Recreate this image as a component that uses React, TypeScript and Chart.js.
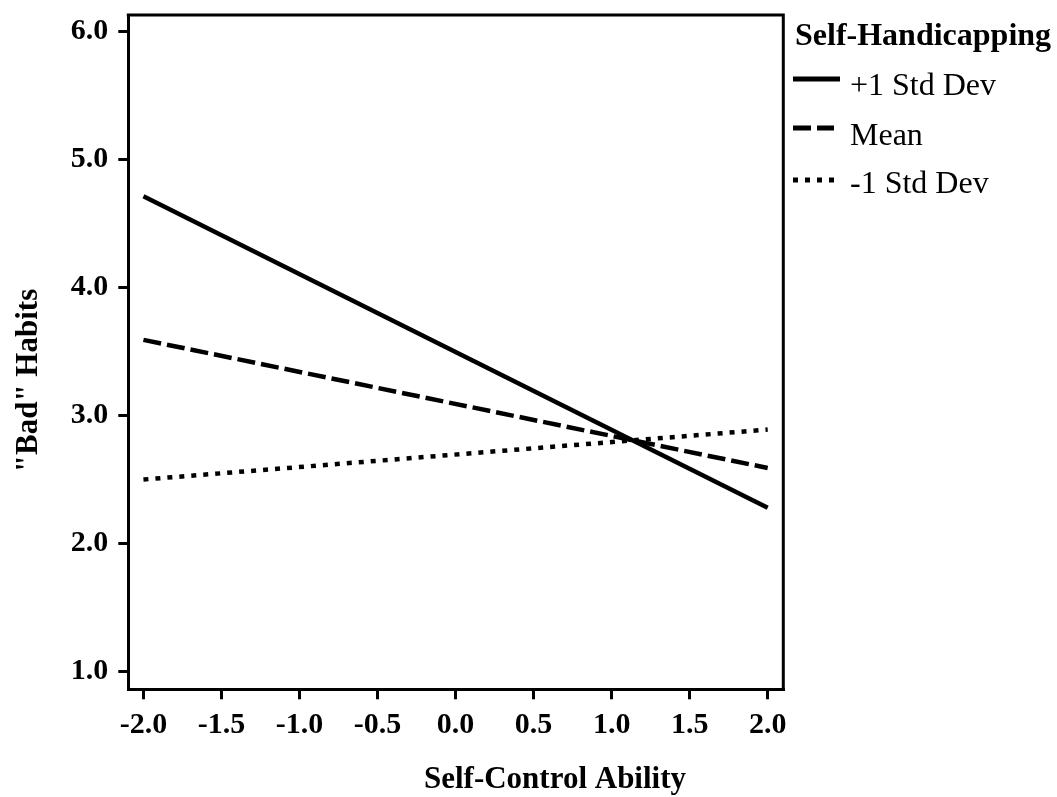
import React, { useEffect, useRef } from 'react';
import { Chart, registerables } from 'chart.js';

Chart.register(...registerables);

// ---- data ----
const xValues = [-2, 2];
const plusOneSD = [4.71, 2.28];
const meanValues = [3.59, 2.59];
const minusOneSD = [2.5, 2.89];
const seriesLabels = ['+1 Std Dev', 'Mean', '-1 Std Dev'];
const xTicks = [-2, -1.5, -1, -0.5, 0, 0.5, 1, 1.5, 2];
const yTicks = [1, 2, 3, 4, 5, 6];
const legendTitle = 'Self-Handicapping';
const xTitle = 'Self-Control Ability';
const yTitle = '"Bad" Habits';

const SERIF = "'Liberation Serif', 'Times New Roman', serif";
const dashes: number[][] = [[], [18, 6], [5, 7]];

const toPoints = (ys: number[]) => xValues.map((x, i) => ({ x, y: ys[i] }));

const decorPlugin = {
  id: 'decor',
  afterDraw(chart: any) {
    const ctx = chart.ctx as CanvasRenderingContext2D;
    const { chartArea } = chart;
    ctx.save();
    // top and right frame lines
    ctx.strokeStyle = '#000';
    ctx.lineWidth = 3;
    ctx.beginPath();
    ctx.moveTo(chartArea.left - 1.5, chartArea.top);
    ctx.lineTo(chartArea.right, chartArea.top);
    ctx.lineTo(chartArea.right, chartArea.bottom + 1.5);
    ctx.stroke();

    // axis titles
    ctx.fillStyle = '#000';
    ctx.font = `bold 31px ${SERIF}`;
    ctx.textAlign = 'center';
    ctx.textBaseline = 'alphabetic';
    ctx.fillText(xTitle, 555, 788);
    ctx.save();
    ctx.translate(36.5, 380.5);
    ctx.rotate(-Math.PI / 2);
    ctx.fillText(yTitle, 0, 0);
    ctx.restore();

    // legend
    ctx.textAlign = 'left';
    ctx.font = `bold 32px ${SERIF}`;
    ctx.fillText(legendTitle, 795, 45);
    ctx.font = `32px ${SERIF}`;
    const lineYs = [79, 128, 180];
    const textYs = [95, 145, 193];
    const ends = [840, 834, 834];
    chart.data.datasets.forEach((ds: any, i: number) => {
      ctx.beginPath();
      ctx.setLineDash(dashes[i]);
      ctx.lineWidth = 5;
      ctx.lineCap = 'butt';
      ctx.moveTo(793, lineYs[i]);
      ctx.lineTo(ends[i], lineYs[i]);
      ctx.stroke();
      ctx.setLineDash([]);
      ctx.fillText(ds.label, 850, textYs[i]);
    });
    ctx.restore();
  },
};

export default function App() {
  const canvasRef = useRef<HTMLCanvasElement | null>(null);

  useEffect(() => {
    if (!canvasRef.current) return;
    const tickFont = { family: SERIF, size: 30, weight: 'bold' as const };
    const seriesData = [plusOneSD, meanValues, minusOneSD];
    const chart = new Chart(canvasRef.current, {
      type: 'line',
      data: {
        datasets: seriesData.map((ys, i) => ({
          label: seriesLabels[i],
          data: toPoints(ys),
          borderColor: '#000',
          backgroundColor: '#000',
          borderWidth: 4.5,
          borderDash: dashes[i],
          borderCapStyle: 'butt' as const,
          pointRadius: 0,
          fill: false,
          tension: 0,
        })),
      },
      options: {
        animation: false,
        responsive: false,
        devicePixelRatio: 1,
        layout: { padding: { left: 0, top: 15, right: 273.7, bottom: 0 } },
        plugins: {
          legend: { display: false },
          tooltip: { enabled: false },
          title: { display: false },
        },
        scales: {
          x: {
            type: 'linear',
            min: -2.097,
            max: 2.1,
            afterBuildTicks: (s: any) => {
              s.ticks = xTicks.map((v) => ({ value: v }));
            },
            afterFit: (s: any) => {
              s.height = 797 - 689.3;
              s.paddingLeft = 0;
              s.paddingRight = 0;
              s.paddingTop = 0;
              s.paddingBottom = 0;
            },
            ticks: {
              font: tickFont,
              color: '#000',
              padding: 8,
              maxRotation: 0,
              autoSkip: false,
              callback: (v: any) => Number(v).toFixed(1),
            },
            grid: {
              drawOnChartArea: false,
              drawTicks: true,
              tickLength: 10,
              lineWidth: 3,
              color: '#000',
            },
            border: { display: true, width: 3, color: '#000' },
          },
          y: {
            type: 'linear',
            min: 0.863,
            max: 6.125,
            afterBuildTicks: (s: any) => {
              s.ticks = yTicks.map((v) => ({ value: v }));
            },
            afterFit: (s: any) => {
              s.width = 128.3;
              s.paddingLeft = 0;
              s.paddingRight = 0;
              s.paddingTop = 0;
              s.paddingBottom = 0;
            },
            ticks: {
              font: tickFont,
              color: '#000',
              padding: 10,
              autoSkip: false,
              callback: (v: any) => Number(v).toFixed(1),
            },
            grid: {
              drawOnChartArea: false,
              drawTicks: true,
              tickLength: 10,
              lineWidth: 3,
              color: '#000',
            },
            border: { display: true, width: 3, color: '#000' },
          },
        },
      },
      plugins: [decorPlugin],
    });
    return () => chart.destroy();
  }, []);

  return (
    <div style={{ position: 'fixed', left: 0, top: 0, width: 1057, height: 797, background: '#fff' }}>
      <canvas ref={canvasRef} width={1057} height={797} style={{ display: 'block' }} />
    </div>
  );
}
